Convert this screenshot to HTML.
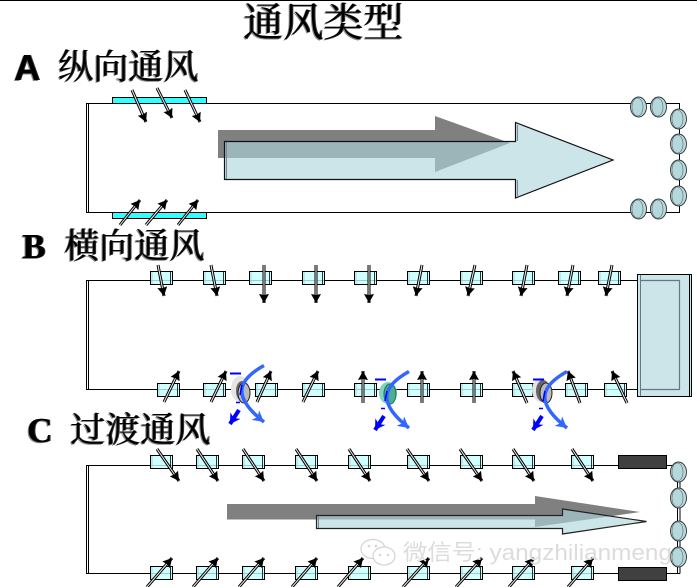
<!DOCTYPE html>
<html><head><meta charset="utf-8"><style>
html,body{margin:0;padding:0;background:#fff}
body{width:697px;height:587px;position:relative;overflow:hidden}
svg{position:absolute;left:0;top:0}
.h{position:absolute;white-space:nowrap;font-family:"Liberation Serif","Noto Serif CJK SC",serif;font-weight:400;color:#000;line-height:1;text-shadow:1px 0 0 #333,-1px 1px 0 #888}
</style></head><body>
<svg width="697" height="587" viewBox="0 0 697 587" xmlns="http://www.w3.org/2000/svg">
<defs>
<marker id="hd" markerUnits="userSpaceOnUse" markerWidth="11" markerHeight="11" refX="9" refY="5" orient="auto"><path d="M0 0L9 5L0 10L1 5Z" fill="#000"/></marker>
<marker id="bh" markerUnits="userSpaceOnUse" markerWidth="14" markerHeight="14" refX="11" refY="6" orient="auto"><path d="M0 0L11 6L0 12L3 6Z" fill="#36f"/></marker>
<marker id="dh" markerUnits="userSpaceOnUse" markerWidth="14" markerHeight="14" refX="10" refY="6" orient="auto"><path d="M0 0L10 6L0 12L3 6Z" fill="#00f"/></marker>
<g id="c"><rect x=".5" y=".5" width="22" height="13" fill="#c4ffff" fill-opacity=".8" stroke="#000"/><line x1="20.500" y1="0" x2="20.500" y2="14" stroke="#000" stroke-width=".8"/><line x1="2" y1="1" x2="2" y2="13" stroke="#9cc" stroke-width=".8"/></g>
<g id="e"><ellipse cx="0" cy="0" rx="8" ry="10" fill="#b5d8da" stroke="#333" stroke-width=".9"/><ellipse cx="-1" cy="0" rx="5.500" ry="9" fill="none" stroke="#567" stroke-width=".6"/></g>
<g id="ar">
<line x1="132" y1="90" x2="146" y2="122"/><line x1="157" y1="88" x2="172" y2="118"/><line x1="185" y1="90" x2="200" y2="122"/>
<line x1="120" y1="225" x2="140" y2="200"/><line x1="146" y1="225" x2="167" y2="200"/><line x1="178" y1="225" x2="198" y2="200"/>
<line x1="158" y1="265" x2="164" y2="296"/><line x1="211" y1="265" x2="217" y2="296"/><line x1="264" y1="265" x2="264" y2="303"/><line x1="316" y1="265" x2="316" y2="303"/><line x1="369" y1="265" x2="369" y2="303"/><line x1="422" y1="265" x2="416" y2="296"/><line x1="475" y1="265" x2="468" y2="296"/><line x1="527" y1="265" x2="521" y2="296"/><line x1="573" y1="265" x2="567" y2="296"/><line x1="612" y1="265" x2="606" y2="296"/>
<line x1="164" y1="402" x2="179" y2="371"/><line x1="211" y1="402" x2="226" y2="371"/><line x1="257" y1="402" x2="271" y2="371"/><line x1="303" y1="402" x2="318" y2="371"/><line x1="363" y1="403" x2="363" y2="371"/><line x1="422" y1="403" x2="422" y2="371"/><line x1="474" y1="403" x2="474" y2="371"/><line x1="527" y1="403" x2="513" y2="371"/><line x1="580" y1="403" x2="568" y2="371"/><line x1="627" y1="403" x2="612" y2="371"/>
<line x1="157" y1="449" x2="179" y2="481"/><line x1="197" y1="449" x2="218" y2="481"/><line x1="243" y1="449" x2="264" y2="481"/><line x1="296" y1="449" x2="317" y2="481"/><line x1="349" y1="449" x2="370" y2="481"/><line x1="407" y1="449" x2="429" y2="481"/><line x1="460" y1="449" x2="482" y2="481"/><line x1="513" y1="449" x2="534" y2="481"/><line x1="572" y1="449" x2="593" y2="481"/>
<line x1="147" y1="587" x2="172" y2="558"/><line x1="193" y1="587" x2="218" y2="558"/><line x1="239" y1="587" x2="264" y2="558"/><line x1="292" y1="587" x2="317" y2="558"/><line x1="338" y1="587" x2="363" y2="558"/><line x1="403" y1="587" x2="429" y2="558"/><line x1="456" y1="587" x2="482" y2="558"/><line x1="509" y1="587" x2="534" y2="558"/><line x1="568" y1="587" x2="593" y2="558"/>
</g>
<g id="fan"><path d="M409 371.500C383 386 376 402 409 428" fill="none" stroke="#36f" stroke-width="3.500" marker-end="url(#bh)"/><line x1="384" y1="416" x2="375" y2="430" stroke="#00f" stroke-width="4" marker-end="url(#dh)"/><line x1="375" y1="379.500" x2="386" y2="379.500" stroke="#00f" stroke-width="2"/><line x1="381" y1="408.500" x2="385" y2="408.500" stroke="#00f" stroke-width="1.500"/><line x1="387" y1="391" x2="385" y2="401" stroke="#00f" stroke-width="1.500"/></g>
</defs>
<line x1="0" y1=".5" x2="697" y2=".5" stroke="#000"/>
<g fill="none" stroke="#000" stroke-width="1">
<path d="M679.500 103.500H86.500V212.500H679.500Z"/><path d="M88.500 103.500V212.500"/>
<path d="M637 280.500H86.500V389.500H637"/><path d="M88.500 280.500V389.500"/>
<path d="M620 465.500H86.500V573.500H620"/><path d="M88.500 465.500V573.500"/>
<path d="M665 465.500H677M665 573.500H680M680 465.500V573.500M677.500 465.500V573.500"/>
</g>
<rect x="112.500" y="97.500" width="94" height="6" fill="#3ff" stroke="#000"/>
<rect x="112.500" y="212.500" width="94" height="6" fill="#3ff" stroke="#000"/>
<path d="M218 130H435V116L510 143L435 172V158H218Z" fill="#808080"/>
<path d="M224.500 141.500H515.500V122.500L613 160L515.500 198V179.500H224.500Z" fill="rgb(171,213,218)" fill-opacity=".622" stroke="#111" stroke-width="1.200"/>
<line x1="226.500" y1="142" x2="226.500" y2="179" stroke="#789"/>
<line x1="517.500" y1="125" x2="517.500" y2="141" stroke="#789"/><line x1="517.500" y1="180" x2="517.500" y2="196" stroke="#789"/>
<use href="#e" x="638.500" y="107"/><use href="#e" x="658.500" y="107"/><use href="#e" x="638.500" y="209"/><use href="#e" x="658.500" y="209"/>
<use href="#e" x="678.500" y="119"/><use href="#e" x="678.500" y="144"/><use href="#e" x="678.500" y="170"/><use href="#e" x="678.500" y="196"/>
<use href="#c" x="150" y="271"/><use href="#c" x="203" y="271"/><use href="#c" x="249" y="271"/><use href="#c" x="302" y="271"/><use href="#c" x="354" y="271"/><use href="#c" x="407" y="271"/><use href="#c" x="460" y="271"/><use href="#c" x="512" y="271"/><use href="#c" x="558" y="271"/><use href="#c" x="598" y="271"/>
<use href="#c" x="157" y="383"/><use href="#c" x="203" y="383"/><use href="#c" x="255" y="383"/><use href="#c" x="302" y="383"/><use href="#c" x="354" y="383"/><use href="#c" x="407" y="383"/><use href="#c" x="460" y="383"/><use href="#c" x="512" y="383"/><use href="#c" x="565" y="383"/><use href="#c" x="604" y="383"/>
<rect x="637.500" y="274.500" width="54" height="122" fill="#cbe5e8" stroke="#000"/>
<line x1="640.500" y1="275" x2="640.500" y2="396" stroke="#678"/>
<line x1="689.500" y1="275" x2="689.500" y2="396" stroke="#000"/>
<path d="M640 280.500H679.500V389.500H640" fill="none" stroke="#678" stroke-width="1.200"/>
<use href="#c" x="150" y="455"/><use href="#c" x="196" y="455"/><use href="#c" x="242" y="455"/><use href="#c" x="295" y="455"/><use href="#c" x="348" y="455"/><use href="#c" x="407" y="455"/><use href="#c" x="460" y="455"/><use href="#c" x="512" y="455"/><use href="#c" x="571" y="455"/>
<use href="#c" x="150" y="566"/><use href="#c" x="196" y="566"/><use href="#c" x="242" y="566"/><use href="#c" x="295" y="566"/><use href="#c" x="348" y="566"/><use href="#c" x="407" y="566"/><use href="#c" x="460" y="566"/><use href="#c" x="512" y="566"/><use href="#c" x="571" y="566"/>
<rect x="618.500" y="455.500" width="48" height="13" fill="#404040" stroke="#000"/>
<rect x="618.500" y="567.500" width="48" height="13" fill="#404040" stroke="#000"/>
<path d="M227 504H535V496L640 512L535 527V519.500H227Z" fill="#808080"/>
<path d="M316.500 515.500H562.500V509L646.500 521.500L562.500 534V528.500H316.500Z" fill="rgb(171,213,218)" fill-opacity=".622" stroke="#222" stroke-width="1.200"/>
<line x1="318.500" y1="516" x2="318.500" y2="528" stroke="#789"/>
<use href="#e" x="678.500" y="472"/><use href="#e" x="678.500" y="498"/><use href="#e" x="678.500" y="531"/><use href="#e" x="678.500" y="557"/>
<ellipse cx="240" cy="389" rx="9" ry="13" fill="#e4e4e4"/><ellipse cx="242" cy="391" rx="6" ry="10" fill="#666"/><ellipse cx="244" cy="393" rx="6" ry="10" fill="#bbb" stroke="#222"/>
<ellipse cx="388" cy="393" rx="9" ry="11" fill="#7fd4bc"/><ellipse cx="390" cy="394" rx="6" ry="10" fill="#3a9a80" stroke="#175" fill-opacity=".7"/>
<ellipse cx="541" cy="390" rx="9" ry="12" fill="#e4e4e4"/><ellipse cx="543" cy="391" rx="7" ry="11" fill="#666"/><ellipse cx="546" cy="393" rx="6" ry="10" fill="#bbb" stroke="#222"/>
<use href="#ar" stroke="#000" stroke-width="3"/>
<use href="#ar" stroke="#eee" stroke-width="1"/>
<use href="#ar" stroke="none" style="marker-end:url(#hd)"/>
<use href="#fan" x="-145" y="-6"/><use href="#fan"/><use href="#fan" x="158"/>
<g fill="#fff" stroke="#d4d4d4" stroke-width="1.200">
<ellipse cx="373" cy="549" rx="12" ry="9.500"/><ellipse cx="384" cy="556" rx="11" ry="9"/>
</g>
<g fill="#d4d4d4"><circle cx="369" cy="546" r="1.300"/><circle cx="376" cy="546" r="1.300"/><circle cx="380" cy="555" r="1.200"/><circle cx="388" cy="555" r="1.200"/></g>
<text x="403" y="560" font-size="22" font-family="'Liberation Sans','Noto Sans CJK SC',sans-serif" fill="#dcdcdc" textLength="269" lengthAdjust="spacingAndGlyphs">微信号: yangzhilianmeng</text>
</svg>
<div class="h" style="left:243px;top:3px;font-size:40px">通风类型</div>
<div class="h" style="left:14px;top:50px;font-size:36px;font-weight:700;font-family:'Liberation Sans',sans-serif">A</div>
<div class="h" style="left:58px;top:50px;font-size:35px">纵向通风</div>
<div class="h" style="left:22px;top:229px;font-size:35px;font-weight:700">B</div>
<div class="h" style="left:64px;top:229px;font-size:35px">横向通风</div>
<div class="h" style="left:27px;top:413px;font-size:35px;font-weight:700">C</div>
<div class="h" style="left:70px;top:413px;font-size:35px">过渡通风</div>
</body></html>
